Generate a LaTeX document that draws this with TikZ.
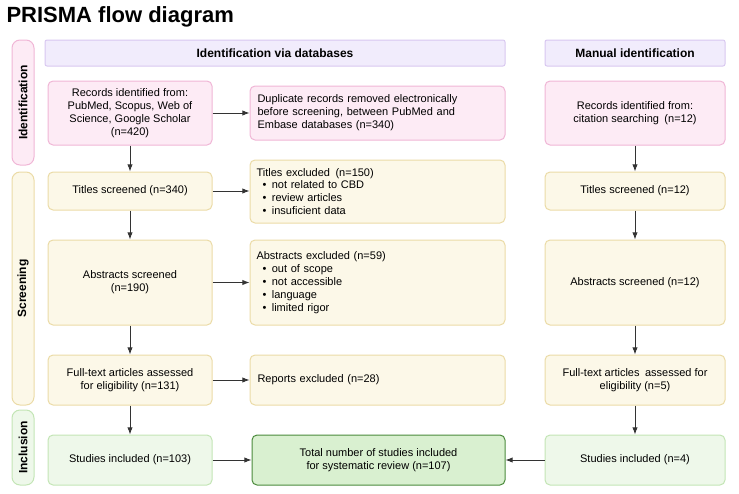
\documentclass[tikz,border=0pt]{standalone}
\usepackage{fontspec}
\setmainfont{Liberation Sans}
\usetikzlibrary{positioning,arrows.meta}
\definecolor{idfill}{HTML}{FDEBF5}
\definecolor{iddraw}{HTML}{F0B6D6}
\definecolor{scfill}{HTML}{FCF8E8}
\definecolor{scdraw}{HTML}{EBDBA6}
\definecolor{infill}{HTML}{EEF8EA}
\definecolor{indraw}{HTML}{C3E5B5}
\definecolor{hdfill}{HTML}{F1ECFC}
\definecolor{hddraw}{HTML}{D8C7F0}
\definecolor{totfill}{HTML}{D9F0D0}
\definecolor{totdraw}{HTML}{4B8A3C}
\tikzset{>=Latex,
  box/.style={draw, line width=1pt, rounded corners=5pt, align=center,
    inner sep=2pt, font=\fontsize{11}{13}\selectfont},
  idbox/.style={box, fill=idfill, draw=iddraw},
  scbox/.style={box, fill=scfill, draw=scdraw},
  inbox/.style={box, fill=infill, draw=indraw},
  header/.style={box, fill=hdfill, draw=hddraw, rounded corners=2pt,
    font=\fontsize{12}{14}\selectfont\bfseries},
  sidebar/.style={box, rounded corners=8pt, rotate=90},
  stage/.style={rotate=90, font=\fontsize{12}{14}\selectfont\bfseries},
  flow/.style={->, line width=0.9pt, draw=black!80}
}
% box from pixel corners: name, style, x0, y0, x1, y1, text
\newcommand{\pbox}[7]{%
  \node[#2, minimum width={(#5-#3)*1pt}, minimum height={(#6-#4)*1pt}]
    (#1) at ({(#3+#5)/2*1pt}, {-(#4+#6)/2*1pt}) {#7};}
\newcommand{\pside}[6]{%
  \node[sidebar, #2, minimum width={(#6-#4)*1pt}, minimum height={(#5-#3)*1pt}]
    (#1) at ({(#3+#5)/2*1pt}, {-(#4+#6)/2*1pt}) {};}

\begin{document}
\begin{tikzpicture}
  \useasboundingbox (0,0) rectangle (739pt,-493pt);
  \node[anchor=west, font=\fontsize{22}{24}\selectfont\bfseries] (title) at (3pt,-17pt) {PRISMA flow diagram};
  % stage bars
  \pside{sid}{fill=idfill, draw=iddraw}{12}{40}{34}{165}
  \pside{ssc}{fill=scfill, draw=scdraw}{12}{172}{34}{405}
  \pside{sin}{fill=infill, draw=indraw}{12}{410}{34}{485}
  \node[stage] at (sid) {Identification};
  \node[stage] at (ssc) {Screening};
  \node[stage] at (sin) {Inclusion};
  % headers
  \pbox{hdb}{header}{45}{40}{505}{66}{Identification via databases}
  \pbox{hman}{header}{545}{40}{725}{66}{Manual identification}
  % databases
  \pbox{rec}{idbox}{48}{81}{212}{145}{Records identified from:\\PubMed, Scopus, Web of\\Science, Google Scholar\\(n=420)}
  \pbox{dup}{idbox, align=left, text width=240pt}{250}{86}{505}{140}{Duplicate records removed electronically\\before screening, between PubMed and\\Embase databases (n=340)}
  \pbox{tit}{scbox}{48}{172}{212}{210}{Titles screened (n=340)}
  \pbox{titx}{scbox, align=left, text width=242pt}{250}{160}{505}{223}{Titles excluded\enspace(n=150)\\[-1pt]
    \hspace*{6pt}\textbullet\enspace not related to CBD\\\hspace*{6pt}\textbullet\enspace review articles\\\hspace*{6pt}\textbullet\enspace insuficient data}
  \pbox{abs}{scbox}{48}{240}{212}{325}{Abstracts screened\\(n=190)}
  \pbox{absx}{scbox, align=left, text width=242pt}{250}{240}{505}{325}{Abstracts excluded (n=59)\\
    \hspace*{6pt}\textbullet\enspace out of scope\\\hspace*{6pt}\textbullet\enspace not accessible\\\hspace*{6pt}\textbullet\enspace language\\\hspace*{6pt}\textbullet\enspace limited rigor}
  \pbox{ful}{scbox}{48}{355}{212}{405}{Full-text articles assessed\\for eligibility (n=131)}
  \pbox{rep}{scbox, align=left, text width=240pt}{250}{355}{505}{405}{Reports excluded (n=28)}
  \pbox{stu}{inbox}{48}{435}{212}{485}{Studies included (n=103)}
  \pbox{tot}{box, fill=totfill, draw=totdraw}{252}{435}{505}{485}{Total number of studies included\\for systematic review (n=107)}
  % manual
  \pbox{mrec}{idbox}{545}{81}{725}{145}{Records identified from:\\citation searching\enspace(n=12)}
  \pbox{mtit}{scbox}{545}{172}{725}{210}{Titles screened (n=12)}
  \pbox{mabs}{scbox}{545}{240}{725}{325}{Abstracts screened (n=12)}
  \pbox{mful}{scbox}{545}{355}{725}{405}{Full-text articles\enspace assessed for\\eligibility (n=5)}
  \pbox{mstu}{inbox}{545}{435}{725}{485}{Studies included (n=4)}
  % connectors
  \foreach \a/\b in {rec/tit, tit/abs, abs/ful, ful/stu, mrec/mtit, mtit/mabs, mabs/mful, mful/mstu}
    \draw[flow] (\a) -- (\b);
  \foreach \a/\b in {rec/dup, tit/titx, abs/absx, ful/rep, stu/tot}
    \draw[flow] (\a) -- (\b.west |- \a);
  \draw[flow] (mstu) -- (tot);
\end{tikzpicture}
\end{document}
